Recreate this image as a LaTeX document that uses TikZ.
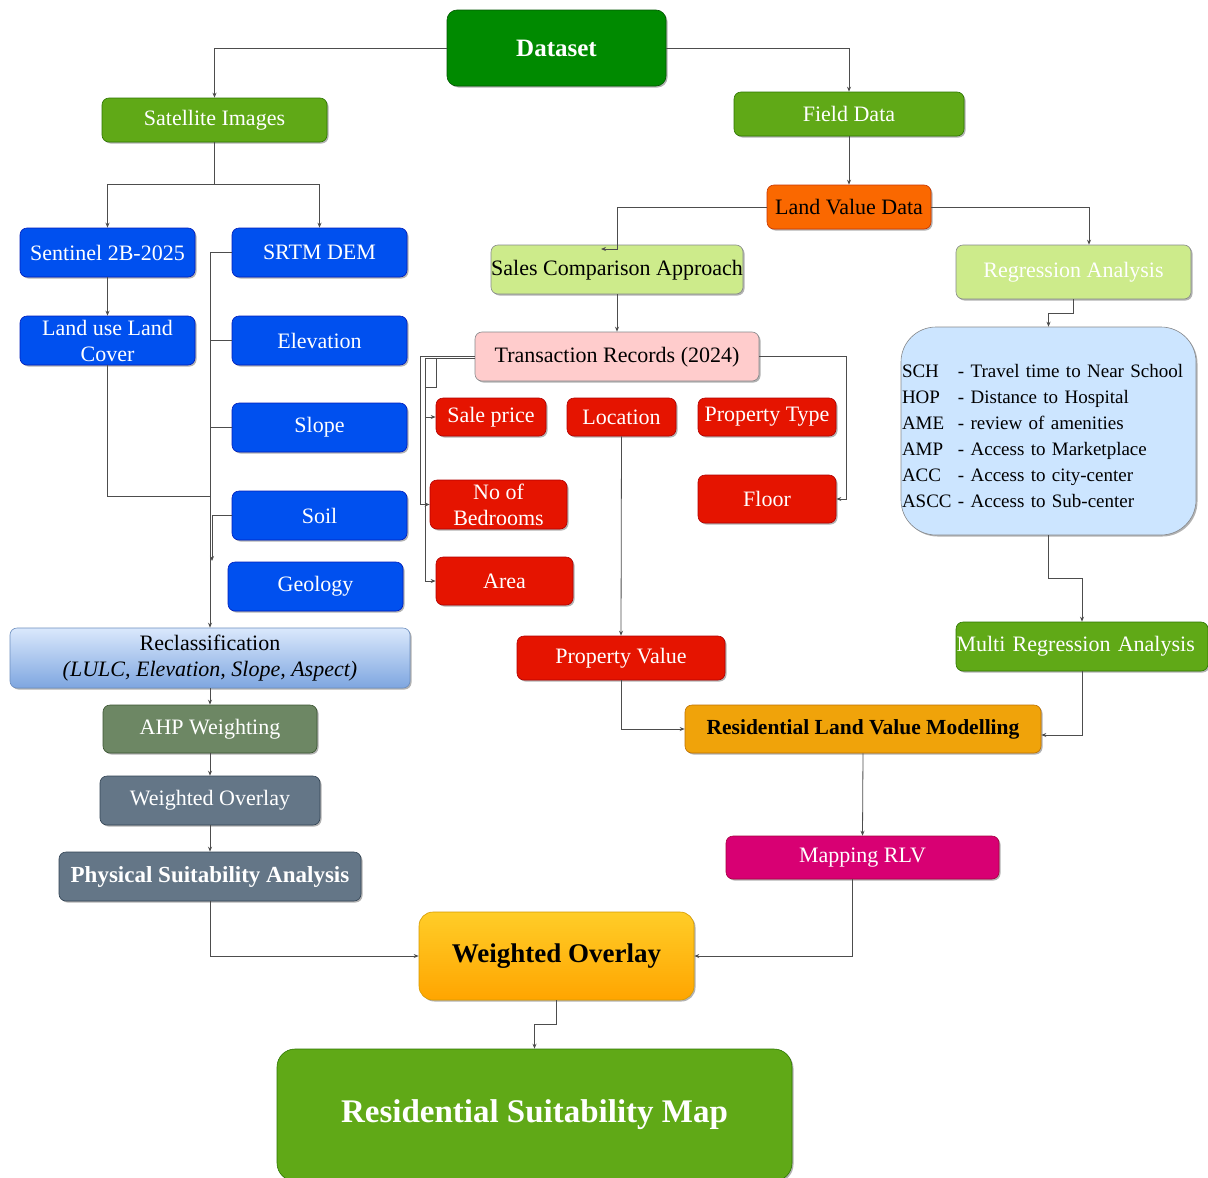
\documentclass[tikz,border=0pt]{standalone}
\usepackage{fontspec}
\setmainfont{Liberation Serif}
\usetikzlibrary{arrows.meta,shadows}
\definecolor{cDataset}{HTML}{008A00}\definecolor{sDataset}{HTML}{005700}
\definecolor{cGreen}{HTML}{60A917}\definecolor{sGreen}{HTML}{2D7600}
\definecolor{cOrange}{HTML}{FA6800}\definecolor{sOrange}{HTML}{C73500}
\definecolor{cLime}{HTML}{CDEB8B}\definecolor{sDark}{HTML}{36393D}
\definecolor{cBlue}{HTML}{0050EF}\definecolor{sBlue}{HTML}{001DBC}
\definecolor{cRed}{HTML}{E51400}\definecolor{sRed}{HTML}{B20000}
\definecolor{cPink}{HTML}{FFCCCC}
\definecolor{cSky}{HTML}{CCE5FF}
\definecolor{cOlive}{HTML}{6D8764}\definecolor{sOlive}{HTML}{3A5431}
\definecolor{cSlate}{HTML}{647687}\definecolor{sSlate}{HTML}{314354}
\definecolor{cAmber}{HTML}{F0A30A}\definecolor{sAmber}{HTML}{BD7000}
\definecolor{cMagenta}{HTML}{D80073}\definecolor{sMagenta}{HTML}{A50040}
\definecolor{cReclTop}{HTML}{DAE8FC}\definecolor{cReclBot}{HTML}{7EA6E0}\definecolor{sRecl}{HTML}{6C8EBF}
\definecolor{cWoTop}{HTML}{FFCD28}\definecolor{cWoBot}{HTML}{FFA500}\definecolor{sWo}{HTML}{D79B00}
\definecolor{cLine}{HTML}{4D4D4D}
\begin{document}
\begin{tikzpicture}[x=1pt,y=-1pt,
  box/.style={rectangle, rounded corners=7pt, inner sep=0pt, align=center, line width=0.6pt,
    font=\fontsize{22}{26}\selectfont,
    drop shadow={shadow xshift=1.5pt,shadow yshift=-1.5pt,opacity=0.3,fill=black}},
  sz/.style 2 args={minimum width=#1pt, minimum height=#2pt},
  greenbox/.style={box, fill=cGreen, draw=sGreen, text=white},
  bluebox/.style={box, fill=cBlue, draw=sBlue, text=white},
  redbox/.style={box, fill=cRed, draw=sRed, text=white},
  limebox/.style={box, fill=cLime, draw=sDark!60, text=black},
  slatebox/.style={box, fill=cSlate, draw=sSlate, text=white},
  line/.style={draw=cLine, line width=0.8pt},
  conn/.style={line, -{Stealth[length=5pt,width=4pt]}}
]
\useasboundingbox (0,0) rectangle (1208,1178);
\fill[white] (0,0) rectangle (1208,1178);
\clip (0,0) rectangle (1208,1178);

% ---------- top ----------
\node[box, fill=cDataset, draw=sDataset, text=white, rounded corners=10pt, sz={219}{76},
  font=\fontsize{25}{30}\selectfont\bfseries] (dataset) at (556.5,48) {Dataset};
\node[greenbox, sz={225}{44}] (sat) at (214.5,120) {Satellite Images};
\node[greenbox, sz={230}{44}] (field) at (849,114) {Field Data};
\node[box, fill=cOrange, draw=sOrange, text=black, sz={164}{44}] (lvd) at (849,207) {Land Value Data};
\node[limebox, sz={252}{49}, text height=16pt, text depth=5pt] (sca) at (617,269.5) {Sales Comparison Approach};
\node[limebox, text=white, sz={235}{54}] (reg) at (1073.5,272) {Regression Analysis};

% ---------- left column ----------
\node[bluebox, sz={175}{49}] (sent) at (107.5,252.5) {Sentinel 2B-2025};
\node[bluebox, sz={175}{49}] (srtm) at (319.5,252.5) {SRTM DEM};
\node[bluebox, sz={175}{49}] (lulc) at (107.5,340.5) {Land use Land\\Cover};
\node[bluebox, sz={175}{49}] (elev) at (319.5,340.5) {Elevation};
\node[bluebox, sz={175}{49}] (slope) at (319.5,427.5) {Slope};
\node[bluebox, sz={175}{49}] (soil) at (319.5,515.5) {Soil};
\node[bluebox, sz={175}{49}] (geo) at (315.5,586.5) {Geology};
\node[box, top color=cReclTop, bottom color=cReclBot, draw=sRecl, text=black, sz={400}{60}] (recl) at (210,658)
  {Reclassification\\\textit{(LULC, Elevation, Slope, Aspect)}};
\node[box, fill=cOlive, draw=sOlive, text=white, sz={214}{48}] (ahp) at (210,729) {AHP Weighting};
\node[slatebox, sz={220}{49}] (wo1) at (210,800.5) {Weighted Overlay};
\node[slatebox, sz={302}{49}, font=\fontsize{23}{27}\selectfont\bfseries] (phys) at (210,876.5) {Physical Suitability Analysis};

% ---------- middle ----------
\node[box, fill=cPink, draw=sDark!60, text=black, sz={284}{49}, text height=16pt, text depth=5pt] (trans) at (617,356.5) {Transaction Records (2024)};
\node[redbox, sz={110}{38}] (sale) at (491,417) {Sale price};
\node[redbox, sz={109}{38}] (loc) at (621.5,417) {Location};
\node[redbox, sz={138}{38}] (ptype) at (767,417) {Property Type};
\node[redbox, sz={137}{49}] (bed) at (498.5,504.5) {No of\\Bedrooms};
\node[redbox, sz={138}{48}] (floor) at (767,499) {Floor};
\node[redbox, sz={137}{48}] (area) at (504.5,581) {Area};
\node[redbox, sz={208}{44}] (pval) at (621,658) {Property Value};
\node[box, fill=cAmber, draw=sAmber, text=black, sz={356}{48}, font=\fontsize{21.5}{26}\selectfont\bfseries] (rlvm) at (863,729) {Residential Land Value Modelling};
\node[box, fill=cMagenta, draw=sMagenta, text=white, sz={273}{43}] (map) at (862.5,857.5) {Mapping RLV};

% ---------- right ----------
\node[box, fill=cSky, draw=sDark!60, rounded corners=35pt, minimum height=208pt, text width=293pt, inner xsep=1pt, align=left,
  font=\fontsize{19}{26}\selectfont] (vars) at (1048.5,431)
  {\raisebox{-6pt}[\height][\depth]{\begin{tabular}{@{}l@{\ }l@{}}
   SCH & - Travel time to Near School\\
   HOP & - Distance to Hospital\\
   AME & - review of amenities\\
   AMP & - Access to Marketplace\\
   ACC & - Access to city-center\\
   ASCC & - Access to Sub-center
   \end{tabular}}};
\node[greenbox, sz={252}{49}, text width=251pt, inner xsep=0.5pt, align=left] (multi) at (1082,646.5) {Multi Regression Analysis};

% ---------- bottom ----------
\node[box, top color=cWoTop, bottom color=cWoBot, draw=sWo, text=black, rounded corners=14pt, sz={275}{88},
  font=\fontsize{27}{32}\selectfont\bfseries] (wo2) at (556.5,956) {Weighted Overlay};
\node[greenbox, rounded corners=18pt, sz={515}{132}, font=\fontsize{33}{40}\selectfont\bfseries] (rsm) at (534.5,1115) {Residential Suitability Map};

% ---------- connectors ----------
\draw[conn] (dataset.west) -| (sat.north);
\draw[conn] (dataset.east) -| (field.north);
\coordinate (satj) at (214.5,184);
\draw[line] (sat.south) -- (satj);
\draw[conn] (satj) -| (sent.north);
\draw[conn] (satj) -| (srtm.north);
\draw[conn] (sent.south) -- (lulc.north);
\coordinate (lulcj) at (210,496);
\draw[line] (lulc.south) |- (lulcj);
\draw[conn] (srtm.west) -| (recl.north);
\draw[line] (elev.west) -- (elev.west -| recl.north);
\draw[line] (slope.west) -- (slope.west -| recl.north);
\coordinate (soilj) at (212,515.5);
\coordinate (soile) at (212,561);
\draw[conn] (soil.west) -- (soilj) -- (soile);
\draw[conn] (recl.south) -- (ahp.north);
\draw[conn] (ahp.south) -- (wo1.north);
\draw[conn] (wo1.south) -- (phys.north);
\draw[conn] (phys.south) |- (wo2.west);

\draw[conn] (field.south) -- (lvd.north);
\coordinate (lvdj) at (617,249);
\coordinate (lvde) at (601,249);
\draw[conn] (lvd.west) -| (lvdj) -- (lvde);
\draw[conn] (lvd.east) -| ([xshift=15.5pt]reg.north);
\draw[conn] (sca.south) -- (trans.north);
\draw[conn] (reg.south) -- ++(0,14) -| (vars.north);
\draw[conn] (vars.south) -- ++(0,43) -| (multi.north);
\draw[conn] (multi.south) |- ([yshift=-6pt]rlvm.east);

\coordinate (tja) at (420,356.5);
\coordinate (tjb) at (425,358.5);
\coordinate (tjc) at (425,417);
\draw[conn] (trans.west) -- (tja) |- (bed.west);
\draw[conn] ([yshift=-2pt]trans.west) -- (tjb) |- (area.west);
\draw[conn] (tjc) -- (sale.west);
\draw[line] (436,358.5) |- (tjb |- 0,387);
\coordinate (tjr) at (846,356.5);
\draw[conn] (trans.east) -- (tjr) |- (floor.east);
\draw[conn] (loc.south) -- (pval.north);
\draw[conn] (pval.south) |- (rlvm.west);
\draw[conn] (rlvm.south) -- (map.north);
\draw[conn] ([xshift=-10.5pt]map.south) |- (wo2.east);
\draw[conn] (wo2.south) -- ++(0,24) -| (rsm.north);
\end{tikzpicture}
\end{document}
